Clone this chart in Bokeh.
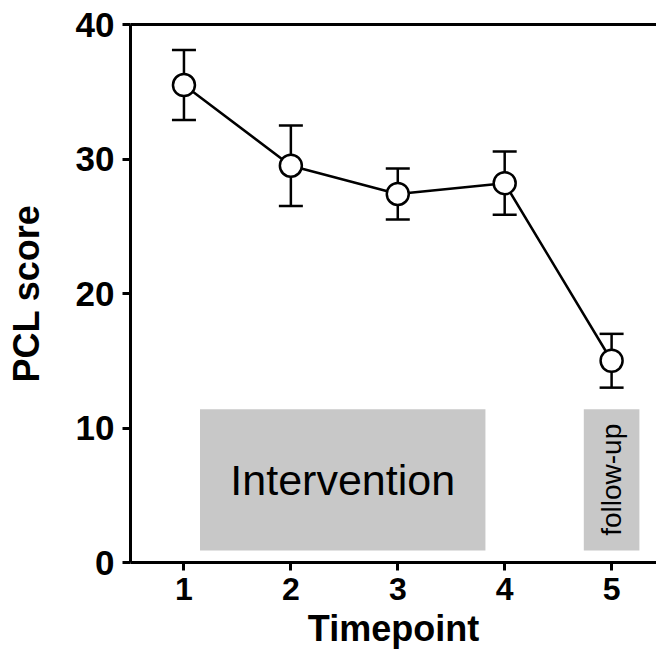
import math
from bokeh.plotting import figure
from bokeh.models import (ColumnDataSource, Range1d, LinearAxis, FixedTicker,
                          Whisker, TeeHead)
from bokeh.core.properties import value
from bokeh.embed import file_html
from bokeh.resources import INLINE

# ---- data ----
timepoints = [1, 2, 3, 4, 5]
pcl_mean = [35.5, 29.5, 27.4, 28.2, 15.0]
pcl_err = [2.6, 3.0, 1.9, 2.35, 2.0]

phase_labels = ["Intervention", "follow-up"]
phase_start = [1.15, 4.74]
phase_end = [3.82, 5.26]
phase_bottom = [0.9, 0.9]
phase_top = [11.4, 11.4]

y_ticks = [0, 10, 20, 30, 40]

FONT = "Liberation Sans"

src = ColumnDataSource(dict(
    x=timepoints, y=pcl_mean,
    upper=[m + e for m, e in zip(pcl_mean, pcl_err)],
    lower=[m - e for m, e in zip(pcl_mean, pcl_err)],
))

p = figure(width=656, height=651, output_backend="svg", toolbar_location=None,
           x_range=Range1d(0.5, 5.42), y_range=Range1d(0, 40),
           min_border_left=130, min_border_right=0, min_border_top=24,
           min_border_bottom=85, x_axis_location="below")
p.outline_line_color = None
p.xgrid.visible = False
p.ygrid.visible = False
p.background_fill_color = "white"
p.border_fill_color = "white"

# phase boxes
psrc = ColumnDataSource(dict(
    left=phase_start, right=phase_end, bottom=phase_bottom, top=phase_top,
    cx=[(a + b) / 2 for a, b in zip(phase_start, phase_end)],
    cy=[(a + b) / 2 for a, b in zip(phase_bottom, phase_top)],
    label=phase_labels,
    angle=[0, math.pi / 2],
    size=["43px", "28px"],
))
p.quad(left="left", right="right", bottom="bottom", top="top", source=psrc,
       fill_color="#c8c8c8", line_color=None)
p.text(x="cx", y="cy", text="label", angle="angle", source=psrc,
       text_font=value(FONT), text_font_size="size", text_color="black",
       text_align="center", text_baseline="middle")

# error bars
w = Whisker(base="x", upper="upper", lower="lower", source=src,
            line_color="black", line_width=2.5, level="underlay",
            upper_head=TeeHead(size=24, line_width=2.5, line_color="black"),
            lower_head=TeeHead(size=24, line_width=2.5, line_color="black"))
p.add_layout(w)

p.line("x", "y", source=src, line_color="black", line_width=2.5)
p.scatter("x", "y", source=src, marker="circle", size=22,
          fill_color="white", line_color="black", line_width=2.5)

# axes
for ax in (p.xaxis[0], p.yaxis[0]):
    ax.axis_line_width = 3
    ax.major_tick_line_width = 3
    ax.major_tick_out = 8
    ax.major_tick_in = 0
    ax.minor_tick_line_color = None
    ax.major_label_text_font = FONT
    ax.major_label_text_font_style = "bold"
    ax.major_label_text_color = "black"
    ax.axis_label_text_font = FONT
    ax.axis_label_text_font_style = "bold"
    ax.axis_label_text_font_size = "36px"
    ax.axis_label_text_color = "black"

p.xaxis.ticker = FixedTicker(ticks=timepoints)
p.xaxis.major_label_text_font_size = "32px"
p.xaxis.major_label_standoff = 7
p.xaxis.axis_label = "Timepoint"
p.xaxis.axis_label_standoff = 5

p.yaxis.ticker = FixedTicker(ticks=y_ticks)
p.yaxis.major_label_text_font_size = "35px"
p.yaxis.major_label_standoff = 8
p.yaxis.axis_label = "PCL score"
p.yaxis.axis_label_standoff = 26

top_ax = LinearAxis(ticker=FixedTicker(ticks=[]), axis_line_width=3,
                    major_tick_line_color=None, minor_tick_line_color=None,
                    major_label_text_font_size="0px")
p.add_layout(top_ax, "above")

open("out.html", "w").write(file_html(p, INLINE))
